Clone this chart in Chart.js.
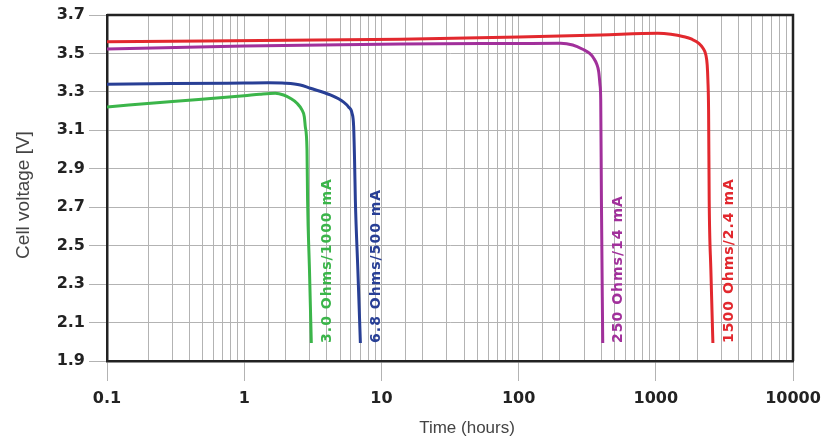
<!DOCTYPE html>
<html>
<head>
<meta charset="utf-8">
<script src="https://cdn.jsdelivr.net/npm/chart.js@4.4.0/dist/chart.umd.min.js"></script>
<style>
  html, body { margin: 0; padding: 0; background: #fff; }
  #wrap { width: 835px; height: 444px; }
</style>
</head>
<body>
<div id="wrap"><canvas id="dischargeChart"></canvas></div>
<script>
// discharge curves (hours, volts)
const hours3R0 = [0.1, 0.3, 1, 1.3, 1.684, 1.936, 2.167, 2.425, 2.637, 2.742, 2.788, 2.869, 2.897, 2.991, 3.084];
const volts3R0 = [3.222, 3.250, 3.280, 3.288, 3.293, 3.284, 3.267, 3.241, 3.206, 3.171, 3.119, 2.998, 2.738, 2.373, 1.994];

const hours6R8 = [0.1, 0.3, 1, 1.5, 1.993, 2.563, 3.033, 4.243, 5.306, 5.771, 6.110, 6.277, 6.373, 6.459, 6.737, 7.028];
const volts6R8 = [3.340, 3.343, 3.346, 3.347, 3.345, 3.336, 3.319, 3.284, 3.247, 3.221, 3.189, 3.119, 2.946, 2.738, 2.373, 1.994];

const hours250 = [0.1, 1, 13.8, 100, 202.6, 247.9, 293.3, 329.8, 352.7, 370.9, 383.6, 392.1, 396.8, 401.5, 410.4];
const volts250 = [3.523, 3.539, 3.549, 3.552, 3.553, 3.544, 3.522, 3.500, 3.475, 3.445, 3.405, 3.336, 3.258, 2.738, 1.994];

const hours1500 = [0.1, 13.8, 100, 397, 1034, 1287, 1601, 1831, 2060, 2203, 2317, 2369, 2397, 2425, 2450, 2520, 2607];
const volts1500 = [3.561, 3.574, 3.585, 3.596, 3.605, 3.600, 3.587, 3.574, 3.553, 3.528, 3.492, 3.440, 3.362, 3.206, 2.738, 2.373, 1.994];

const seriesLabels = ["3.0 Ohms/1000 mA", "6.8 Ohms/500 mA", "250 Ohms/14 mA", "1500 Ohms/2.4 mA"];
const seriesColors = ["#3bb54a", "#283f95", "#a1309b", "#e2282e"];

const voltTicks = [1.9, 2.1, 2.3, 2.5, 2.7, 2.9, 3.1, 3.3, 3.5, 3.7];
const hourLabels = [0.1, 1, 10, 100, 1000, 10000];

const isDecade = v => Math.abs(Math.log10(v) - Math.round(Math.log10(v))) < 1e-9;
const toPoints = (xs, ys) => xs.map((x, i) => ({ x: x, y: ys[i] }));

const allSeries = [
    toPoints(hours3R0, volts3R0),
    toPoints(hours6R8, volts6R8),
    toPoints(hours250, volts250),
    toPoints(hours1500, volts1500)
];

// rotated label just right of where each curve ends
const curveLabels = {
    id: "curveLabels",
    afterDatasetsDraw(chart) {
        const ctx = chart.ctx;
        chart.data.datasets.forEach((ds, i) => {
            const meta = chart.getDatasetMeta(i);
            const last = meta.data[meta.data.length - 1];
            ctx.save();
            ctx.translate(last.x + 16, last.y);
            ctx.rotate(-Math.PI / 2);
            ctx.font = "bold 14px 'DejaVu Sans'";
            ctx.letterSpacing = "1px";
            ctx.fillStyle = seriesColors[i];
            ctx.textAlign = "left";
            ctx.textBaseline = "middle";
            ctx.fillText(seriesLabels[i], 0, 0);
            ctx.restore();
        });
    }
};

// top/right frame + axis titles
const frameAndTitles = {
    id: "frameAndTitles",
    afterDraw(chart) {
        const ctx = chart.ctx;
        const a = chart.chartArea;
        ctx.save();
        ctx.strokeStyle = "#222";
        ctx.lineWidth = 2.5;
        ctx.beginPath();
        ctx.moveTo(a.left, a.top);
        ctx.lineTo(a.right, a.top);
        ctx.lineTo(a.right, a.bottom);
        ctx.stroke();

        ctx.fillStyle = "#444";
        ctx.textAlign = "center";
        ctx.textBaseline = "middle";
        ctx.font = "17px 'Liberation Sans'";
        ctx.fillText("Time (hours)", (a.left + a.right) / 2 + 17, 428);

        ctx.translate(24, (a.top + a.bottom) / 2 + 7);
        ctx.rotate(-Math.PI / 2);
        ctx.font = "19px 'Liberation Sans'";
        ctx.fillText("Cell voltage [V]", 0, 0);
        ctx.restore();
    }
};

new Chart(document.getElementById("dischargeChart"), {
    type: "line",
    data: {
        datasets: allSeries.map((pts, i) => ({
            label: seriesLabels[i],
            data: pts,
            borderColor: seriesColors[i],
            borderWidth: 3,
            pointRadius: 0,
            cubicInterpolationMode: "monotone",
            fill: false
        }))
    },
    options: {
        responsive: true,
        maintainAspectRatio: false,
        animation: false,
        layout: { padding: { top: 15, right: 42, left: 0, bottom: 0 } },
        plugins: { legend: { display: false }, tooltip: { enabled: false } },
        scales: {
            x: {
                type: "logarithmic",
                min: 0.1,
                max: 10000,
                afterFit: s => { s.height = 83; },
                border: { display: true, color: "#222", width: 2.5 },
                grid: {
                    color: "#b3b3b3",
                    lineWidth: 1,
                    tickLength: 20,
                    tickColor: c => (c.tick && isDecade(c.tick.value)) ? "#b3b3b3" : "rgba(0,0,0,0)"
                },
                ticks: {
                    autoSkip: false,
                    maxRotation: 0,
                    padding: 8,
                    color: "#222",
                    font: { family: "DejaVu Sans", size: 16, weight: "bold" },
                    callback: v => {
                        if (!isDecade(v)) return "";
                        const hit = hourLabels.find(h => Math.abs(h - v) / h < 1e-6);
                        return hit === undefined ? "" : (hit < 1 ? hit.toFixed(1) : String(hit));
                    }
                }
            },
            y: {
                min: 1.9,
                max: 3.7,
                afterFit: s => { s.width = 107; },
                afterBuildTicks: s => { s.ticks = voltTicks.map(v => ({ value: v })); },
                border: { display: true, color: "#222", width: 2.5 },
                grid: { color: "#b3b3b3", lineWidth: 1, tickLength: 18, tickColor: "#b3b3b3" },
                ticks: {
                    padding: 4,
                    color: "#222",
                    font: { family: "DejaVu Sans", size: 16, weight: "bold" },
                    callback: v => Number(v).toFixed(1)
                }
            }
        }
    },
    plugins: [curveLabels, frameAndTitles]
});
</script>
</body>
</html>
